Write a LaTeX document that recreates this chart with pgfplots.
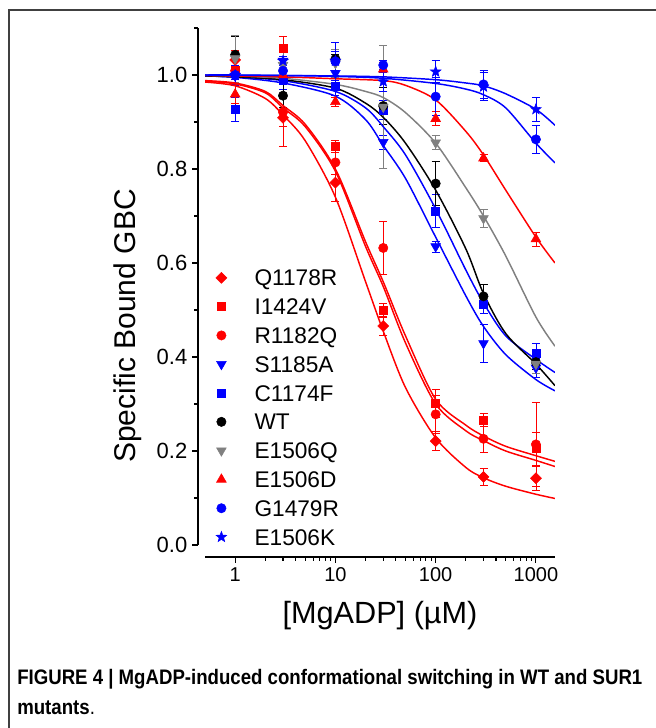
\documentclass[border=0pt]{standalone}
\usepackage{fontspec}
\setmainfont{Liberation Sans}
\usepackage{graphicx}
\usepackage{pgfplots}
\pgfplotsset{compat=1.18}
\usetikzlibrary{plotmarks}

\definecolor{mred}{RGB}{255,0,0}
\definecolor{mblue}{RGB}{0,0,255}
\definecolor{mgray}{RGB}{128,128,128}

% filled five-pointed star
\pgfdeclareplotmark{fstar}{%
  \pgfpathmoveto{\pgfpointpolar{90}{\pgfplotmarksize}}%
  \pgfpathlineto{\pgfpointpolar{126}{0.42\pgfplotmarksize}}%
  \pgfpathlineto{\pgfpointpolar{162}{\pgfplotmarksize}}%
  \pgfpathlineto{\pgfpointpolar{198}{0.42\pgfplotmarksize}}%
  \pgfpathlineto{\pgfpointpolar{234}{\pgfplotmarksize}}%
  \pgfpathlineto{\pgfpointpolar{270}{0.42\pgfplotmarksize}}%
  \pgfpathlineto{\pgfpointpolar{306}{\pgfplotmarksize}}%
  \pgfpathlineto{\pgfpointpolar{342}{0.42\pgfplotmarksize}}%
  \pgfpathlineto{\pgfpointpolar{18}{\pgfplotmarksize}}%
  \pgfpathlineto{\pgfpointpolar{54}{0.42\pgfplotmarksize}}%
  \pgfpathclose\pgfusepathqfillstroke}

\pgfplotsset{
  dat/.style={only marks,
    error bars/y dir=both, error bars/y explicit,
    error bars/error mark=|,
    error bars/error bar style={line width=0.6pt},
    error bars/error mark options={line width=0.6pt, mark size=3pt}},
  fit/.style={no marks, smooth, line width=1.1pt, forget plot},
}

\begin{document}
\begin{tikzpicture}
\path[use as bounding box] (0,0) rectangle (492pt,546pt);
% figure frame
\draw[black!75, line width=1.1pt] (6.75pt,-2pt) -- (6.75pt,538.5pt) -- (495pt,538.5pt);

\begin{axis}[
  at={(153.75pt,137.25pt)}, anchor=south west,
  scale only axis, width=262.5pt, height=387.75pt,
  xmode=log, xmin=0.5, xmax=1550, ymin=0, ymax=1.1,
  axis x line*=bottom, axis y line*=left,
  axis x line shift=9pt, axis y line shift=5.25pt,
  axis line style={line width=1pt, -},
  tick align=outside, major tick length=4.5pt, minor tick length=2.7pt,
  tick style={black, line width=0.8pt},
  xtick={1,10,100,1000}, xticklabels={1,10,100,1000},
  ytick={0,0.2,0.4,0.6,0.8,1.0},
  minor ytick={0.1,0.3,0.5,0.7,0.9,1.1},
  /pgf/number format/assume math mode=true,
  xticklabel style={font=\fontsize{15}{15}\selectfont},
  yticklabel style={font=\fontsize{16.5}{16.5}\selectfont,
    /pgf/number format/.cd, fixed, fixed zerofill, precision=1},
  xlabel={[MgADP] (\textmu M)},
  ylabel={Specific Bound GBC},
  every axis x label/.style={at={(axis description cs:0.5,-0.151)}, anchor=base,
    font=\fontsize{23}{23}\selectfont},
  every axis y label/.style={at={(axis description cs:-0.2,0.4236)}, anchor=base,
    rotate=90, font=\fontsize{22.5}{22.5}\selectfont},
  legend style={draw=none, fill=none, at={(axis description cs:0.0305,0.533)},
    anchor=north west, inner sep=0pt, row sep=9.4pt, column sep=20.75pt,
    font=\fontsize{17}{17}\selectfont,
    nodes={inner sep=0pt, anchor=west, text height=12.2pt, text depth=0pt}},
  legend cell align=left,
]

% ---- data points (mean +- error) ----
\addplot[mred, mark=square*, mark size=2.9pt, mark options={rotate=45}, dat] coordinates {
  (1,1.032) +- (0,0.02) (3,0.909) +- (0,0.06) (10,0.771) +- (0,0.04)
  (30,0.466) +- (0,0.02) (100,0.221) +- (0,0.02) (300,0.145) +- (0,0.018)
  (1000,0.142) +- (0,0.025)};
\addlegendentry{Q1178R}
\addplot[mred, mark=square*, mark size=3pt, dat] coordinates {
  (1,1.01) +- (0,0.02) (3,1.057) +- (0,0.025) (10,0.848) +- (0,0.012)
  (30,0.50) +- (0,0.015) (100,0.301) +- (0,0.03) (300,0.266) +- (0,0.013)
  (1000,0.205) +- (0,0.035)};
\addlegendentry{I1424V}
\addplot[mred, mark=*, mark size=3.5pt, dat] coordinates {
  (1,1.009) +- (0,0.03) (3,0.921) +- (0,0.03) (10,0.814) +- (0,0.025)
  (30,0.632) +- (0,0.057) (100,0.278) +- (0,0.04) (300,0.226) +- (0,0.03)
  (1000,0.214) +- (0,0.09)};
\addlegendentry{R1182Q}
\addplot[mblue, mark=triangle*, mark size=4.2pt, mark options={rotate=180}, dat] coordinates {
  (1,0.998) +- (0,0.02) (3,1.03) +- (0,0.02) (10,1.004) +- (0,0.03)
  (30,0.857) +- (0,0.015) (100,0.635) +- (0,0.012) (300,0.429) +- (0,0.04)
  (1000,0.377) +- (0,0.02)};
\addlegendentry{S1185A}
\addplot[mblue, mark=square*, mark size=3pt, dat] coordinates {
  (1,0.927) +- (0,0.025) (3,0.99) +- (0,0.02) (10,0.976) +- (0,0.02)
  (30,0.925) +- (0,0.02) (100,0.71) +- (0,0.035) (300,0.513) +- (0,0.02)
  (1000,0.409) +- (0,0.02)};
\addlegendentry{C1174F}
\addplot[black, mark=*, mark size=3.5pt, dat] coordinates {
  (1,1.043) +- (0,0.04) (3,0.956) +- (0,0.024) (10,1.034) +- (0,0.01)
  (30,0.934) +- (0,0.04) (100,0.769) +- (0,0.047) (300,0.529) +- (0,0.025)
  (1000,0.389) +- (0,0.015)};
\addlegendentry{WT}
\addplot[mgray, mark=triangle*, mark size=4.2pt, mark options={rotate=180}, dat] coordinates {
  (1,1.035) +- (0,0.05) (3,1.021) +- (0,0.03) (10,1.025) +- (0,0.03)
  (30,0.932) +- (0,0.13) (100,0.856) +- (0,0.015) (300,0.695) +- (0,0.02)
  (1000,0.385) +- (0,0.02)};
\addlegendentry{E1506Q}
\addplot[mred, mark=triangle*, mark size=4.2pt, dat] coordinates {
  (1,0.959) +- (0,0.02) (3,1.0) +- (0,0.02) (10,0.943) +- (0,0.01)
  (30,1.012) +- (0,0.015) (100,0.907) +- (0,0.015) (300,0.823) +- (0,0.007)
  (1000,0.651) +- (0,0.015)};
\addlegendentry{E1506D}
\addplot[mblue, mark=*, mark size=3.5pt, dat] coordinates {
  (1,1.0) +- (0,0.02) (3,1.009) +- (0,0.03) (10,1.029) +- (0,0.04)
  (30,1.021) +- (0,0.01) (100,0.954) +- (0,0.04) (300,0.98) +- (0,0.03)
  (1000,0.863) +- (0,0.03)};
\addlegendentry{G1479R}
\addplot[mblue, mark=fstar, mark size=4.2pt, dat] coordinates {
  (1,1.0) +- (0,0.01) (3,1.03) +- (0,0.01) (10,1.03) +- (0,0.02)
  (30,0.986) +- (0,0.02) (100,1.007) +- (0,0.023) (300,0.975) +- (0,0.03)
  (1000,0.927) +- (0,0.025)};
\addlegendentry{E1506K}

% ---- fitted curves (read off the figure) ----
\addplot[mred, fit] coordinates {
  (0.5,0.985) (1,0.977) (2,0.950) (3,0.915) (5,0.86) (10,0.74) (20,0.56)
  (30,0.455) (50,0.335) (100,0.228) (200,0.165) (300,0.143) (500,0.125)
  (1000,0.108) (1550,0.099)};
\addplot[mred, fit] coordinates {
  (0.5,0.988) (1,0.983) (2,0.965) (3,0.935) (5,0.895) (10,0.80) (20,0.645)
  (30,0.56) (50,0.445) (100,0.31) (200,0.255) (300,0.232) (500,0.21)
  (1000,0.19) (1550,0.178)};
\addplot[mred, fit] coordinates {
  (0.5,0.987) (1,0.981) (2,0.962) (3,0.93) (5,0.89) (10,0.795) (20,0.635)
  (30,0.55) (50,0.43) (100,0.30) (200,0.243) (300,0.222) (500,0.2)
  (1000,0.18) (1550,0.167)};
\addplot[mblue, fit] coordinates {
  (0.5,0.998) (1,0.995) (3,0.983) (10,0.955) (20,0.905) (30,0.85) (50,0.78)
  (100,0.655) (200,0.53) (300,0.465) (500,0.405) (1000,0.352) (1550,0.328)};
\addplot[mblue, fit] coordinates {
  (0.5,0.998) (1,0.996) (3,0.988) (10,0.965) (20,0.93) (30,0.89) (50,0.83)
  (100,0.715) (200,0.585) (300,0.515) (500,0.445) (1000,0.395) (1550,0.367)};
\addplot[black, fit] coordinates {
  (0.5,0.998) (1,0.996) (3,0.99) (10,0.972) (20,0.94) (30,0.91) (50,0.855)
  (100,0.755) (200,0.63) (300,0.535) (500,0.45) (1000,0.385) (1550,0.339)};
\addplot[mgray, fit] coordinates {
  (0.5,0.999) (1,0.998) (3,0.993) (10,0.98) (20,0.965) (30,0.952) (50,0.92)
  (100,0.855) (200,0.76) (300,0.70) (500,0.615) (1000,0.485) (1550,0.423)};
\addplot[mred, fit] coordinates {
  (0.5,0.999) (1,0.998) (3,0.996) (10,0.992) (30,0.988) (50,0.978)
  (100,0.947) (200,0.88) (300,0.83) (500,0.755) (1000,0.655) (1550,0.60)};
\addplot[mblue, fit] coordinates {
  (0.5,1.0) (1,0.9995) (3,0.999) (10,0.997) (30,0.993) (100,0.982)
  (200,0.97) (300,0.958) (500,0.93) (1000,0.855) (1550,0.813)};
\addplot[mblue, fit] coordinates {
  (0.5,1.0) (1,1.0) (3,0.999) (10,0.998) (30,0.996) (100,0.99)
  (200,0.983) (300,0.977) (500,0.96) (1000,0.927) (1550,0.893)};
\end{axis}

% caption
\node[anchor=base west, inner sep=0pt] at (12.75pt,32.25pt)
  {\resizebox{468.75pt}{\height}{\fontsize{15.75}{15.75}\selectfont\bfseries FIGURE 4 | MgADP-induced conformational switching in WT and SUR1}};
\node[anchor=base west, inner sep=0pt] at (12.75pt,9.75pt)
  {\scalebox{0.888}[1]{\fontsize{15.75}{15.75}\selectfont\bfseries mutants}\scalebox{0.888}[1]{\fontsize{15.75}{15.75}\selectfont.}};
\end{tikzpicture}
\end{document}
